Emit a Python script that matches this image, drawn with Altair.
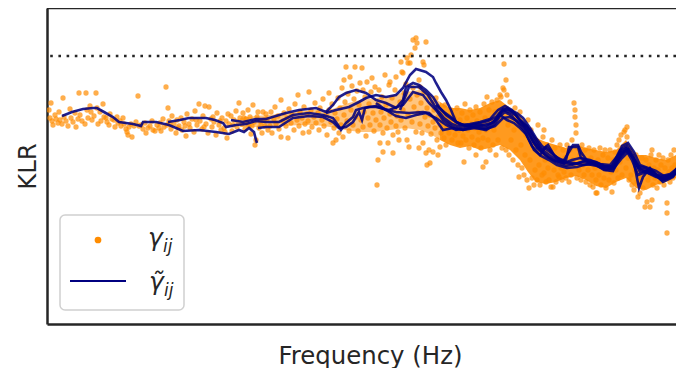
import altair as alt
import pandas as pd

# Frequency (Hz, arbitrary units) and KLR (arbitrary units)
pts_left = [(49,213),(50,205),(51,220),(52,202),(53,198),(55,208),(56,204),(58,200),(59,211),(60,203),
    (62,199),(63,225),(64,206),(66,202),(68,197),(70,214),(71,205),(73,201),(75,210),(76,196),(78,204),
    (79,230),(80,208),(82,202),(85,199),(86,230),(87,213),(88,205),(90,217),(91,211),(92,203),(94,207),
    (96,230),(97,215),(98,199),(100,211),(101,202),(103,219),(104,206),(106,205),(107,201),(109,198),
    (110,209),(112,204),(114,203),(115,196),(117,206),(118,200),(120,202),(121,197),(123,205),(124,199),
    (126,194),(127,191),(128,188),(129,196),(131,199),(132,186),(134,197),(136,201),(138,227),(139,197),
    (141,198),(143,194),(145,200),(146,190),(148,195),(150,197),(152,202),(153,193),(155,192),(157,198),
    (159,195)]

pts_midleft = [(160,200),(161,192),(163,204),(164,196),(166,236),(167,198),(168,215),(169,202),(170,199),
    (171,194),(172,207),(174,199),(176,190),(177,203),(178,195),(179,197),(181,205),(182,193),(184,201),
    (185,197),(186,187),(187,209),(189,199),(190,195),(192,204),(194,191),(195,212),(196,203),(197,198),
    (199,219),(200,202),(202,194),(203,207),(204,196),(205,217),(206,199),(208,190),(209,216),(211,204),
    (212,196),(213,206),(214,201),(216,188),(217,210),(219,198),(220,202),(221,193),(222,205),(224,195),
    (225,191),(226,202),(227,185),(228,209),(229,199),(231,207),(232,192),(233,198),(234,203),(236,212),
    (237,196),(238,201),(239,220),(240,205),(242,199),(243,210),(244,205),(245,194),(246,204),(247,200),
    (248,213),(249,197),(250,206),(251,189),(252,197),(253,218),(254,201),(255,178),(256,183),(257,206),
    (258,211),(259,195),(260,202),(261,198),(262,190),(263,211),(264,203),(265,197),(266,209),(267,204),
    (268,193)]

pts_mid = [(270,197),(271,211),(272,190),(274,204),(275,216),(276,199),(278,207),(279,194),(281,223),
    (281,186),(283,202),(284,210),(286,197),(287,205),(288,185),(289,214),(291,200),(292,208),(294,193),
    (295,219),(297,203),(298,228),(299,197),(300,211),(302,205),(303,190),(304,216),(305,199),(307,209),
    (308,202),(309,231),(309,191),(311,213),(312,196),(314,206),(315,220),(316,200),(318,210),(319,193),
    (320,215),(322,203),(323,224),(324,197),(326,208),(327,188),(329,230),(329,213),(331,201),(332,219),
    (333,180),(334,195),(335,210),(336,183),(337,204),(338,225),(339,190),(340,215),(341,198),(342,235),
    (343,186),(344,243),(344,208),(345,221),(346,256),(347,202),(348,229),(349,192),(350,246),(351,213),
    (352,237),(353,198),(354,224),(355,256),(356,206),(357,232),(358,192),(359,218),(360,240),(361,203),
    (362,255),(363,233),(363,196),(364,211),(365,226),(366,187),(367,241),(368,205),(369,219),(370,198),
    (371,231),(372,245),(373,210),(374,192),(375,236),(376,203),(377,138)]

pts_peak = [(378,163),(378,218),(379,233),(380,180),(380,198),(381,211),(382,226),(383,190),(383,171),
    (384,205),(385,248),(386,218),(387,195),(388,180),(389,238),(390,209),(390,241),(391,201),(392,225),
    (393,170),(393,188),(394,215),(395,233),(396,246),(396,197),(397,207),(398,191),(399,183),(400,221),
    (401,261),(401,203),(402,251),(403,213),(403,250),(404,230),(405,195),(406,239),(407,183),(407,265),
    (408,260),(408,208),(409,176),(410,224),(410,260),(411,268),(412,201),(413,283),(413,235),(414,216),
    (415,275),(416,285),(416,191),(417,280),(417,228),(418,210),(419,175),(419,243),(420,236),(420,199),
    (421,220),(422,190),(423,261),(423,180),(424,231),(424,258),(425,206),(426,170),(426,281),(427,215),
    (427,158),(428,197),(429,226),(429,173),(430,160),(430,208),(431,189),(432,220),(433,171),(433,201),
    (434,213),(435,195),(436,225),(437,183),(438,168),(438,206),(439,216),(440,176),(440,198),(441,190),
    (442,211),(443,203),(444,185),(445,218),(446,178),(447,196),(448,207),(449,190),(450,201),(451,213),
    (452,183),(453,195),(454,205),(455,188),(456,198),(457,215),(458,180),(459,193),(460,203),(461,180),
    (462,210),(463,187),(464,161),(464,198),(465,219),(466,183),(467,205),(468,193),(469,175),(470,213),
    (471,199),(472,186),(473,208),(474,178),(475,195),(476,168),(476,216),(477,202),(478,183),(479,191),
    (480,211),(481,175),(482,198),(483,156),(483,185),(484,219),(485,205),(486,161),(486,193)]

pts_drop = [(487,226),(488,183),(489,213),(490,173),(491,203),(492,221),(493,178),(494,193),(495,211),
    (496,168),(497,223),(498,183),(499,205),(500,228),(501,226),(502,175),(503,235),(504,259),(504,233),
    (505,215),(506,243),(506,173),(507,228),(508,198),(509,168),(510,221),(511,183),(512,210),(513,163),
    (514,193),(515,215),(516,173),(517,203),(518,158),(519,146),(520,211),(521,178),(522,155),(523,198),
    (524,148),(525,168),(526,188),(527,143),(528,203),(529,135),(530,163),(531,193),(532,145),(533,178),
    (534,138),(535,153),(536,183),(537,143),(538,198),(539,158),(540,138),(541,173),(542,148),(543,186),
    (544,193),(544,150),(545,163),(546,141),(547,178),(548,155),(549,143),(550,173),(551,136),(552,183),
    (553,136),(554,153),(555,175),(556,141),(557,163),(558,148),(559,146),(560,178),(561,155),(562,143),
    (563,173),(564,151),(565,165),(566,145),(567,178),(568,158),(569,141),(570,173),(571,148),(572,183),
    (573,163),(574,220),(575,206),(575,213),(576,198),(576,190),(577,145),(578,175),(579,153),(580,168),
    (581,143),(582,178),(583,158),(584,148),(585,173),(586,141),(587,163),(588,153),(589,175),(590,138),
    (591,165),(592,148),(593,136),(594,173),(595,155),(596,130),(596,143)]

pts_right = [(597,130),(598,163),(599,148),(600,175),(601,138),(602,158),(603,168),(604,145),(605,173),
    (606,135),(607,155),(608,165),(609,143),(610,173),(611,151),(612,131),(613,163),(614,140),(615,171),
    (616,153),(617,178),(618,145),(619,183),(620,161),(621,188),(622,148),(623,173),(624,191),(625,193),
    (626,155),(627,196),(627,186),(628,165),(629,143),(630,173),(631,148),(632,138),(633,163),(634,133),
    (635,153),(636,168),(637,141),(638,126),(639,158),(640,130),(641,145),(642,165),(643,135),(644,153),
    (645,116),(646,163),(647,121),(648,143),(649,158),(650,116),(650,148),(651,168),(652,173),(652,123),
    (653,138),(654,155),(655,145),(656,163),(657,135),(658,153),(659,168),(660,141),(661,158),(662,148),
    (663,165),(664,138),(665,155),(666,145),(667,120),(667,110),(667,90),(668,163),(669,151),(670,141),
    (671,168),(672,155),(673,145),(674,173),(675,158),(676,151)]

# dense cores of the scatter: (frequency, lower KLR, upper KLR)
core_mid = [(240,196,205),(255,196,207),(270,196,208),(285,197,210),(300,198,212),(315,198,213),
    (330,196,213),(345,193,219),(360,191,223),(375,191,225),(390,193,227),(405,195,231),(420,193,233),
    (432,188,227),(440,183,221)]
core_right = [(440,183,221),(450,178,215),(460,175,215),(470,177,213),(480,173,215),(490,175,220),
    (500,178,223),(510,173,215),(520,163,208),(528,151,195),(536,141,185),(546,139,181),(556,141,178),
    (566,145,175),(576,147,178),(586,143,175),(596,137,173),(606,135,171),(616,141,173),(626,145,183),
    (636,135,168),(646,133,168),(656,138,165),(666,141,163),(676,145,168)]

# smoothed curves (one per pair)
line_1 = [(62,207),(72,211),(83,214),(93,215),(97,215),(104,211),(113,206),(119,201),(126,200),(133,199),
    (141,197),(143,201),(156,201),(169,198),(183,192),(199,193),(216,191),(229,189),(239,193),(244,191),
    (249,195),(254,191),(256,183),(257,180)]
line_2 = [(168,201),(180,203),(189,205),(206,205),(215,203),(223,200),(226,196),(236,198),(246,199),
    (256,202),(266,201),(279,201),(293,208),(309,210),(323,208),(333,205),(338,198),(341,193),(346,200),
    (353,206),(356,213),(363,215),(369,216),(376,217),(386,213),(396,211),(409,210),(423,211),(429,210),
    (436,203),(443,193),(453,195),(463,193),(475,195),(486,194),(495,197),(503,205),(510,206),(517,202),
    (524,196),(530,187),(537,175),(545,168),(553,163),(563,160),(573,159),(583,161),(593,160),(603,155),
    (613,154),(622,171),(628,174),(634,163),(640,151),(648,152),(656,148),(665,144),(673,147),(680,155)]
line_3 = [(231,203),(243,201),(256,204),(266,204),(286,210),(299,213),(316,215),(326,211),(333,218),
    (339,226),(346,230),(356,233),(366,230),(376,223),(386,220),(396,215),(403,223),(406,236),(413,240),
    (419,238),(426,233),(433,226),(439,216),(446,208),(456,201),(466,197),(476,199),(486,197),(496,203),
    (503,213),(509,211),(516,208),(521,201),(527,193),(533,181),(540,173),(548,166),(556,161),(566,157),
    (576,159),(586,163),(596,161),(604,157),(612,157),(620,173),(627,177),(633,168),(638,155),(646,153),
    (654,151),(662,143),(670,145),(678,153)]
line_4 = [(258,195),(266,196),(279,196),(293,205),(309,207),(323,206),(333,201),(339,195),(346,196),
    (353,201),(359,211),(362,203),(365,215),(369,216),(376,216),(389,213),(403,218),(413,231),(423,228),
    (429,220),(436,213),(443,203),(453,196),(463,193),(473,196),(483,198),(492,200),(500,208),(507,203),
    (514,200),(520,195),(526,189),(532,177),(540,168),(546,176),(550,173),(556,165),(563,161),(573,178),
    (578,178),(581,171),(588,161),(596,158),(604,153),(613,152),(621,168),(627,173),(633,165),(639,135),
    (643,146),(650,155),(657,147),(663,141),(673,146),(680,156)]
line_5 = [(326,210),(336,213),(349,216),(359,221),(366,225),(376,228),(386,226),(396,228),(403,235),
    (410,248),(416,254),(426,251),(433,246),(436,240),(441,231),(446,223),(451,213),(456,201),(463,198),
    (476,195),(486,193),(494,198),(500,207),(505,211),(512,207),(518,200),(524,193),(529,183),(534,173),
    (541,167),(549,163),(557,158),(567,155),(577,156),(587,159),(597,157),(606,153),(614,155),(622,165),
    (628,171),(635,163),(641,153),(648,150),(656,146),(664,145),(672,149),(684,163)]
line_6 = [(376,220),(386,213),(396,207),(406,205),(416,208),(426,210),(436,205),(446,198),(456,193),
    (466,195),(476,197),(486,195),(494,201),(500,210),(507,215),(514,210),(520,203),(527,197),(534,183),
    (540,175),(548,169),(556,163),(564,160),(572,163),(580,165),(590,163),(600,159),(610,158),(620,170),
    (626,175),(632,167),(638,157),(646,155),(654,149),(662,147),(670,149),(678,155)]
line_7 = [(400,213),(409,236),(419,236),(428,228),(436,215),(444,205),(452,199),(460,196),(470,198),
    (480,200),(488,202),(496,206),(503,214),(510,213),(517,210),(523,205),(530,195),(536,185),(542,177),
    (550,171),(558,165),(566,161),(574,160),(584,158),(594,159),(604,156),(614,156),(622,177),(628,180),
    (634,171),(640,158),(648,155),(656,152),(664,147),(672,148),(684,158)]
line_8 = [(436,218),(444,211),(452,205),(460,198),(470,199),(480,201),(490,204),(498,213),(505,217),
    (512,213),(518,205),(524,199),(530,193),(536,183),(542,173),(548,178),(554,168),(560,163),(566,163),
    (569,176),(578,176),(581,165),(590,160),(600,158),(610,155),(620,165),(626,173),(632,163),(638,148),
    (646,151),(654,148),(662,143),(670,147),(684,160)]

threshold = [267]

# ---------------------------------------------------------------- tables
pts = pd.DataFrame(pts_left + pts_midleft + pts_mid + pts_peak + pts_drop + pts_right,
                   columns=["freq", "klr"])
lines = [line_1, line_2, line_3, line_4, line_5, line_6, line_7, line_8]
rows = []
for k, ln in enumerate(lines):
    for i, (f, v) in enumerate(ln):
        rows.append((f"pair {k + 1}", i, f, v))
ldf = pd.DataFrame(rows, columns=["pair", "order", "freq", "klr"])
cm = pd.DataFrame(core_mid, columns=["freq", "lo", "hi"])
cr = pd.DataFrame(core_right, columns=["freq", "lo", "hi"])

W, H = 629, 316
INK = "#262626"
ORANGE = "#ff8c00"
BLUE = "#000080"
FONT = "DejaVu Sans"

xs = alt.Scale(domain=[47, 676], nice=False, zero=False)
ys = alt.Scale(domain=[-1, 315], nice=False, zero=False)
xaxis = alt.Axis(title="Frequency (Hz)", labels=False, ticks=False, grid=False,
                 domainColor=INK, domainWidth=2.5, titleX=323, titleY=39,
                 titleBaseline="alphabetic", titleFont=FONT, titleFontSize=24.4,
                 titleFontWeight="normal", titleColor=INK)
yaxis = alt.Axis(title="KLR", labels=False, ticks=False, grid=False,
                 domainColor=INK, domainWidth=2.5, titleX=-12, titleY=158, titleAngle=270,
                 titleAlign="center", titleBaseline="alphabetic", titleFont=FONT,
                 titleFontSize=24.4, titleFontWeight="normal", titleColor=INK)
X = alt.X("freq:Q", scale=xs, axis=xaxis)

mid_band = alt.Chart(cm).mark_area(color=ORANGE, opacity=0.5, clip=True).encode(
    x=X, y=alt.Y("lo:Q", scale=ys, axis=yaxis), y2="hi:Q")
right_band = alt.Chart(cr).mark_area(color=ORANGE, opacity=0.88, clip=True).encode(
    x=X, y=alt.Y("lo:Q", scale=ys, axis=yaxis), y2="hi:Q")
scatter = alt.Chart(pts).mark_circle(color=ORANGE, opacity=0.7, size=28, clip=True).encode(
    x=X, y=alt.Y("klr:Q", scale=ys, axis=yaxis))
curves = alt.Chart(ldf).mark_line(color=BLUE, strokeWidth=2.6, opacity=0.88, clip=True).encode(
    x=X, y=alt.Y("klr:Q", scale=ys, axis=yaxis), detail="pair:N", order="order:Q")
dotted = alt.Chart(pd.DataFrame({"klr": threshold})).mark_rule(
    color=INK, strokeWidth=2.6, strokeDash=[2.6, 5.6]).encode(
    y=alt.Y("klr:Q", scale=ys, axis=yaxis))

deco = alt.Chart(pd.DataFrame({"a": [0]}))
top_border = deco.mark_rule(color=INK, strokeWidth=2.5).encode(
    x=alt.value(0), x2=alt.value(W), y=alt.value(0))
leg_box = deco.mark_rect(fill="white", fillOpacity=0.85, stroke="#d0d0d0", strokeWidth=1.5,
                         cornerRadius=5).encode(
    x=alt.value(13), x2=alt.value(137), y=alt.value(207), y2=alt.value(302))
leg_dot = deco.mark_circle(color=ORANGE, opacity=1, size=45).encode(
    x=alt.value(51), y=alt.value(232))
leg_line = deco.mark_rule(color=BLUE, strokeWidth=2).encode(
    x=alt.value(23), x2=alt.value(79), y=alt.value(273))

def txt(s, x, y, size, align="left"):
    return deco.mark_text(text=s, font=FONT, fontStyle="italic", fontSize=size,
                          align=align, baseline="alphabetic", color=INK).encode(
        x=alt.value(x), y=alt.value(y))

leg_texts = [txt("γ", 101, 238, 25), txt("ij", 116, 244, 17),
             txt("γ\u0303", 102, 282, 25), txt("ij", 117, 288, 17)]

chart = alt.layer(mid_band, right_band, scatter, curves, dotted, top_border,
                  leg_box, leg_dot, leg_line, *leg_texts).properties(
    width=W, height=H,
    padding={"left": 39, "top": 0, "right": 0, "bottom": 44},
    autosize=alt.AutoSizeParams(type="none"),
).configure_view(stroke=None)

chart.save("out.html", embed_options={"renderer": "svg", "actions": False})
